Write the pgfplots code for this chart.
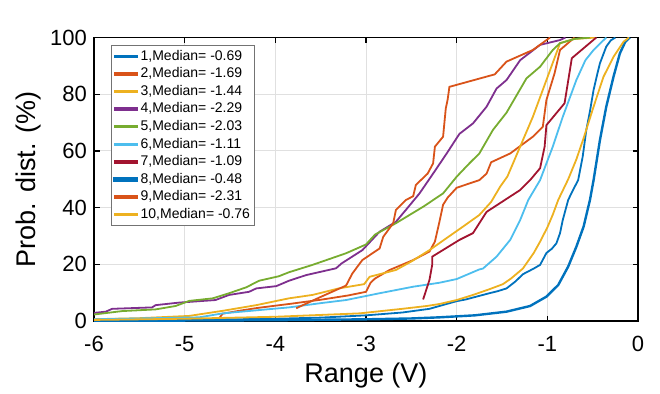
\documentclass[border=0pt]{standalone}
\usepackage{pgfplots}
\pgfplotsset{compat=1.18}
\usepackage{fontspec}
\setmainfont{Liberation Sans}
\definecolor{matA}{RGB}{0,114,189}
\definecolor{matB}{RGB}{217,83,25}
\definecolor{matC}{RGB}{237,177,32}
\definecolor{matD}{RGB}{126,47,142}
\definecolor{matE}{RGB}{119,172,48}
\definecolor{matF}{RGB}{77,190,238}
\definecolor{matG}{RGB}{162,20,47}
\begin{document}
\begin{tikzpicture}
\begin{axis}[
  scale only axis, width=272pt, height=141.75pt,
  xmin=-6, xmax=0, ymin=0, ymax=100,
  xtick={-6,-5,-4,-3,-2,-1,0}, ytick={0,20,40,60,80,100},
  grid=major, major grid style={black!12, line width=0.45pt},
  tick align=inside, tick pos=both, major tick length=2.75pt,
  axis line style={line width=0.6pt},
  every tick/.style={black, line width=0.6pt},
  /pgf/number format/assume math mode=true,
  ticklabel style={font=\fontsize{11}{13}\selectfont},
  xticklabel style={yshift=-4pt},
  xlabel={Range (V)}, ylabel={Prob. dist. (\%)},
  label style={font=\fontsize{13.5}{16}\selectfont},
  xlabel style={at={(axis description cs:0.5,-0.194)}, anchor=center},
  ylabel style={at={(axis description cs:-0.121,0.5)}, anchor=center},
  legend cell align=left,
  legend image code/.code={\fill[#1] (0pt,-0.42pt) rectangle (11.3pt,0.42pt);},
  legend style={at={(axis description cs:0.03125,0.9735)}, anchor=north west,
    draw=black!55, line width=0.45pt, fill=white,
    font=\fontsize{7}{8}\selectfont, inner sep=1pt,
    nodes={inner sep=1.1pt, text height=5.2pt, text depth=1.4pt}},
  every axis plot/.append style={line width=0.9pt},
]
\addplot[color=matA] coordinates {(-6.2,0.2) (-5,0.4) (-4,0.8) (-3.5,1.2) (-3.0,2.0) (-2.6,3.0) (-2.3,4.3) (-2.19,5.3) (-2.0,7.0) (-1.9,7.6) (-1.64,9.8) (-1.55,10.5) (-1.45,11.5) (-1.35,14) (-1.27,16.5) (-1.15,18.5) (-1.08,19.8) (-1.01,24) (-0.95,25.5) (-0.90,27.4) (-0.86,31) (-0.83,35.6) (-0.77,42.7) (-0.72,46) (-0.66,49.7) (-0.61,58) (-0.57,67.4) (-0.53,74) (-0.49,81.5) (-0.45,87) (-0.42,90.9) (-0.35,96.8) (-0.30,99) (-0.25,100)};
\addlegendentry{1,Median= -0.69}
\addplot[color=matB] coordinates {(-4.62,1.0) (-4.58,2.6) (-4.4,3.6) (-4.2,4.6) (-3.85,6.0) (-3.5,7.5) (-3.2,9.0) (-3.0,10.3) (-2.95,13.5) (-2.9,15) (-2.74,18) (-2.48,21.5) (-2.3,24.5) (-2.24,28) (-2.19,35) (-2.15,41) (-2.10,43.5) (-2.0,47) (-1.75,49.7) (-1.67,52) (-1.62,56) (-1.41,59.1) (-1.16,65) (-1.05,68.5) (-1.01,78) (-0.92,87.4) (-0.86,95.6) (-0.70,100)};
\addlegendentry{2,Median= -1.69}
\addplot[color=matC] coordinates {(-6.2,0.5) (-5.5,1.0) (-4.95,1.8) (-4.58,3.6) (-4.21,5.6) (-3.85,8.0) (-3.59,9.2) (-3.3,11.5) (-3.02,13.0) (-2.96,15.6) (-2.67,18) (-2.5,21) (-2.30,25) (-2.1,29.5) (-1.93,33.3) (-1.75,37.4) (-1.62,42) (-1.52,47.4) (-1.44,51) (-1.30,61.5) (-1.16,72) (-1.01,85) (-0.86,98) (-0.7,99.5) (-0.46,100)};
\addlegendentry{3,Median= -1.44}
\addplot[color=matD] coordinates {(-6.2,2.5) (-6.05,2.7) (-5.87,3.3) (-5.80,4.3) (-5.36,4.8) (-5.32,5.6) (-5.06,6.5) (-4.66,7.4) (-4.51,9.2) (-4.29,10.3) (-4.21,11.5) (-3.99,12.3) (-3.85,14.2) (-3.66,16.2) (-3.33,18.6) (-3.27,20.3) (-3.04,25) (-2.85,31.5) (-2.67,35) (-2.56,39.2) (-2.41,45) (-2.26,52) (-2.11,59.1) (-1.97,66) (-1.82,69.7) (-1.67,75.6) (-1.56,82) (-1.45,85) (-1.30,92) (-1.08,97.4) (-0.86,99.1) (-0.8,100)};
\addlegendentry{4,Median= -2.29}
\addplot[color=matE] coordinates {(-6.2,1.8) (-6.05,2.1) (-5.69,3.5) (-5.32,4.1) (-5.10,5.3) (-4.95,7.1) (-4.69,8.0) (-4.51,9.8) (-4.32,11.9) (-4.18,14.2) (-3.96,15.8) (-3.85,17.2) (-3.59,19.8) (-3.22,23.9) (-3.0,27) (-2.9,30.5) (-2.67,34.5) (-2.37,40.3) (-2.15,45) (-2.0,50.9) (-1.86,55.6) (-1.75,59.1) (-1.60,67.4) (-1.45,73.5) (-1.35,79) (-1.23,85.6) (-1.08,89.7) (-0.94,95.6) (-0.86,98) (-0.7,99.5) (-0.53,100)};
\addlegendentry{5,Median= -2.03}
\addplot[color=matF] coordinates {(-6.2,0.5) (-5.5,0.9) (-4.84,1.3) (-4.58,2.7) (-4.2,3.8) (-3.85,4.8) (-3.5,6.3) (-3.22,7.4) (-2.85,9.8) (-2.48,12.1) (-2.19,13.5) (-2.0,14.8) (-1.75,18.2) (-1.71,18.5) (-1.56,22.7) (-1.41,28.6) (-1.30,35.6) (-1.21,42.7) (-1.08,49.7) (-0.94,61.5) (-0.83,72) (-0.68,85) (-0.58,92) (-0.49,95.6) (-0.35,100)};
\addlegendentry{6,Median= -1.11}
\addplot[color=matG] coordinates {(-2.37,7.6) (-2.30,14.5) (-2.27,19.8) (-2.27,22.7) (-1.97,28.6) (-1.82,31.0) (-1.67,38.5) (-1.30,46.2) (-1.19,49.7) (-1.08,53.9) (-1.03,61.5) (-1.01,69.1) (-0.81,76.8) (-0.73,92.7) (-0.46,100)};
\addlegendentry{7,Median= -1.09}
\addplot[color=matA, line width=1.2pt] coordinates {(-6.2,0) (-4,0.3) (-3,0.6) (-2.5,0.9) (-2.19,1.3) (-1.8,2.0) (-1.45,3.3) (-1.19,5.3) (-1.01,8.6) (-0.88,12.7) (-0.77,19.2) (-0.68,26.2) (-0.60,33.3) (-0.53,42.7) (-0.49,49.7) (-0.42,63.8) (-0.35,75.6) (-0.27,86.2) (-0.20,94.4) (-0.14,98.5) (-0.09,100)};
\addlegendentry{8,Median= -0.48}
\addplot[color=matB] coordinates {(-3.77,4.5) (-3.5,8.5) (-3.22,12.5) (-3.15,16.8) (-3.04,21.5) (-2.85,25.6) (-2.81,29.7) (-2.70,34.5) (-2.67,39.2) (-2.56,42.7) (-2.48,44) (-2.45,48) (-2.32,52) (-2.26,55.6) (-2.24,61.5) (-2.15,65) (-2.12,75) (-2.1,78) (-2.08,82.6) (-1.58,87) (-1.45,91.5) (-1.16,95.6) (-0.97,100)};
\addlegendentry{9,Median= -2.31}
\addplot[color=matC] coordinates {(-6.2,0.3) (-5,0.8) (-4,1.5) (-3.07,2.7) (-2.6,4.3) (-2.33,5.3) (-2.19,6.0) (-2.0,7.4) (-1.82,9.2) (-1.64,11.2) (-1.49,13.0) (-1.40,15) (-1.27,18.5) (-1.15,24) (-1.08,28.0) (-1.0,33) (-0.94,37.5) (-0.88,42.7) (-0.77,50) (-0.68,57) (-0.60,64.5) (-0.49,75.6) (-0.38,86.2) (-0.27,93.2) (-0.16,98.5) (-0.10,100)};
\addlegendentry{10,Median= -0.76}
\node[font=\fontsize{12}{14}\selectfont\bfseries, anchor=center] at (axis description cs:0.5,1.069) {P5};
\end{axis}
\pgfresetboundingbox
\path[use as bounding box] ([xshift=-47pt,yshift=-36pt]current axis.south west) rectangle ([xshift=11pt,yshift=18.75pt]current axis.north east);
\end{tikzpicture}
\end{document}
